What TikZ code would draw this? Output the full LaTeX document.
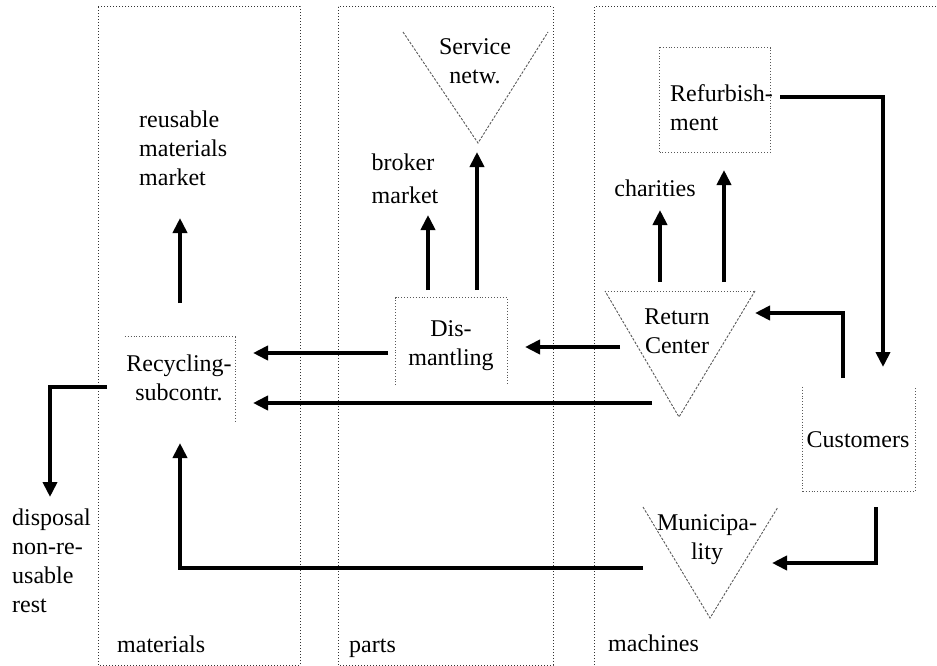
\documentclass[tikz,border=0pt]{standalone}
\usepackage{fontspec}
\setmainfont{Liberation Serif}
\usetikzlibrary{arrows.meta}
\begin{document}
\begin{tikzpicture}[x=1pt,y=-1pt,
  lane/.style={draw=black!80, dotted, line width=1pt},
  frame/.style={draw=black!65, dotted, line width=0.9pt},
  vee/.style={draw=black!65, dash pattern=on 2.5pt off 1.5pt, line width=0.9pt},
  flow/.style={line width=4.5pt, line join=miter, -{Triangle[length=15pt,width=14pt]}},
  txt/.style={font=\fontsize{24}{29}\selectfont, inner sep=0pt},
]
\useasboundingbox (0,0) rectangle (937,666);

% swim lanes
\draw[lane] (98,7) rectangle (300,665);
\draw[lane] (338,7) rectangle (553,665);
\draw[lane] (594,665) -- (594,7) -- (937,7);
\node[txt, anchor=base west] (matlbl) at (117,652) {materials};
\node[txt, anchor=base west] (partlbl) at (349,652) {parts};
\node[txt, anchor=base west] (machlbl) at (608,651) {machines};

% materials lane
\node[txt, align=left, anchor=west] (market) at (139,148) {reusable\\materials\\market};
\node[minimum width=110pt, minimum height=86pt, inner sep=0pt] (recycbox) at (180,380) {};
\draw[frame] (recycbox.north west) -- (recycbox.north east) -- (recycbox.south east);
\node[txt, align=center] (recyc) at (179,378) {Recycling-\\subcontr.};
\node[txt, align=left, anchor=west] (disposal) at (12,561) {disposal\\non-re-\\usable\\rest};

% parts lane
\coordinate (sv-l) at (403,32);
\coordinate (sv-r) at (548,32);
\coordinate (sv-b) at (478,143);
\draw[vee] (sv-l) -- (sv-b) -- (sv-r);
\node[txt, align=center] (service) at (475,61) {Service\\netw.};
\node[txt, align=left] (broker) at (405,179) {broker\\[4pt]market};
\node[minimum width=111pt, minimum height=87pt, inner sep=0pt] (dismbox) at (451.5,341.5) {};
\draw[frame] (dismbox.south west) -- (dismbox.north west) -- (dismbox.north east) -- (dismbox.south east);
\node[txt, align=center] (dism) at (451,346) {Dis-\\mantling};

% machines lane
\node[minimum width=110pt, minimum height=104pt, inner sep=0pt] (refurbbox) at (715,100) {};
\draw[frame] (refurbbox.south west) rectangle (refurbbox.north east);
\node[txt, align=left, anchor=west] (refurb) at (670,108) {Refurbish-\\ment};
\node[txt] (charities) at (655,188) {charities};
\coordinate (rc-l) at (605,291);
\coordinate (rc-r) at (755,291);
\coordinate (rc-b) at (679,417);
\draw[frame] (rc-l) -- (rc-r);
\draw[vee] (rc-r) -- (rc-b) -- (rc-l);
\node[txt, align=center] (retc) at (677,331) {Return\\Center};
\node[minimum width=112pt, minimum height=104pt, inner sep=0pt] (custbox) at (859,439) {};
\draw[frame] (custbox.north west) -- (custbox.south west) -- (custbox.south east) -- (custbox.north east);
\node[txt] (cust) at (858,440) {Customers};
\coordinate (mu-l) at (643,507);
\coordinate (mu-r) at (778,507);
\coordinate (mu-b) at (710,618);
\draw[vee] (mu-l) -- (mu-b) -- (mu-r);
\node[txt, align=center] (muni) at (707,540) {Municipa-\\lity};

% flow end points
\coordinate (recyc-up) at (180,303);
\coordinate (market-in) at (180,218);
\coordinate (recyc-in1) at (253,353);
\coordinate (recyc-in2) at (253,403);
\coordinate (recyc-in3) at (180,443);
\coordinate (recyc-out) at (107,387);
\coordinate (disposal-in) at (50,497);
\coordinate (dism-out1) at (388,353);
\coordinate (dism-in) at (525,347);
\coordinate (dism-up1) at (428,290);
\coordinate (broker-in) at (428,215);
\coordinate (dism-up2) at (477,290);
\coordinate (service-in) at (477,152);
\coordinate (retc-out1) at (620,347);
\coordinate (retc-out2) at (652,403);
\coordinate (retc-up1) at (660,282);
\coordinate (charities-in) at (660,210);
\coordinate (retc-up2) at (724,282);
\coordinate (refurb-in) at (724,170);
\coordinate (retc-in) at (755,313);
\coordinate (refurb-out) at (780,97);
\coordinate (cust-in) at (883,367);
\coordinate (cust-out1) at (843,378);
\coordinate (cust-out2) at (876,507);
\coordinate (muni-in) at (772,563);
\coordinate (muni-out) at (643,568);

% flows
\draw[flow] (recyc-up) -- (market-in);
\draw[flow] (recyc-out) -| (disposal-in);
\draw[flow] (dism-out1) -- (recyc-in1);
\draw[flow] (retc-out2) -- (recyc-in2);
\draw[flow] (muni-out) -| (recyc-in3);
\draw[flow] (dism-up1) -- (broker-in);
\draw[flow] (dism-up2) -- (service-in);
\draw[flow] (retc-out1) -- (dism-in);
\draw[flow] (retc-up1) -- (charities-in);
\draw[flow] (retc-up2) -- (refurb-in);
\draw[flow] (refurb-out) -| (cust-in);
\draw[flow] (cust-out1) |- (retc-in);
\draw[flow] (cust-out2) |- (muni-in);
\end{tikzpicture}
\end{document}
